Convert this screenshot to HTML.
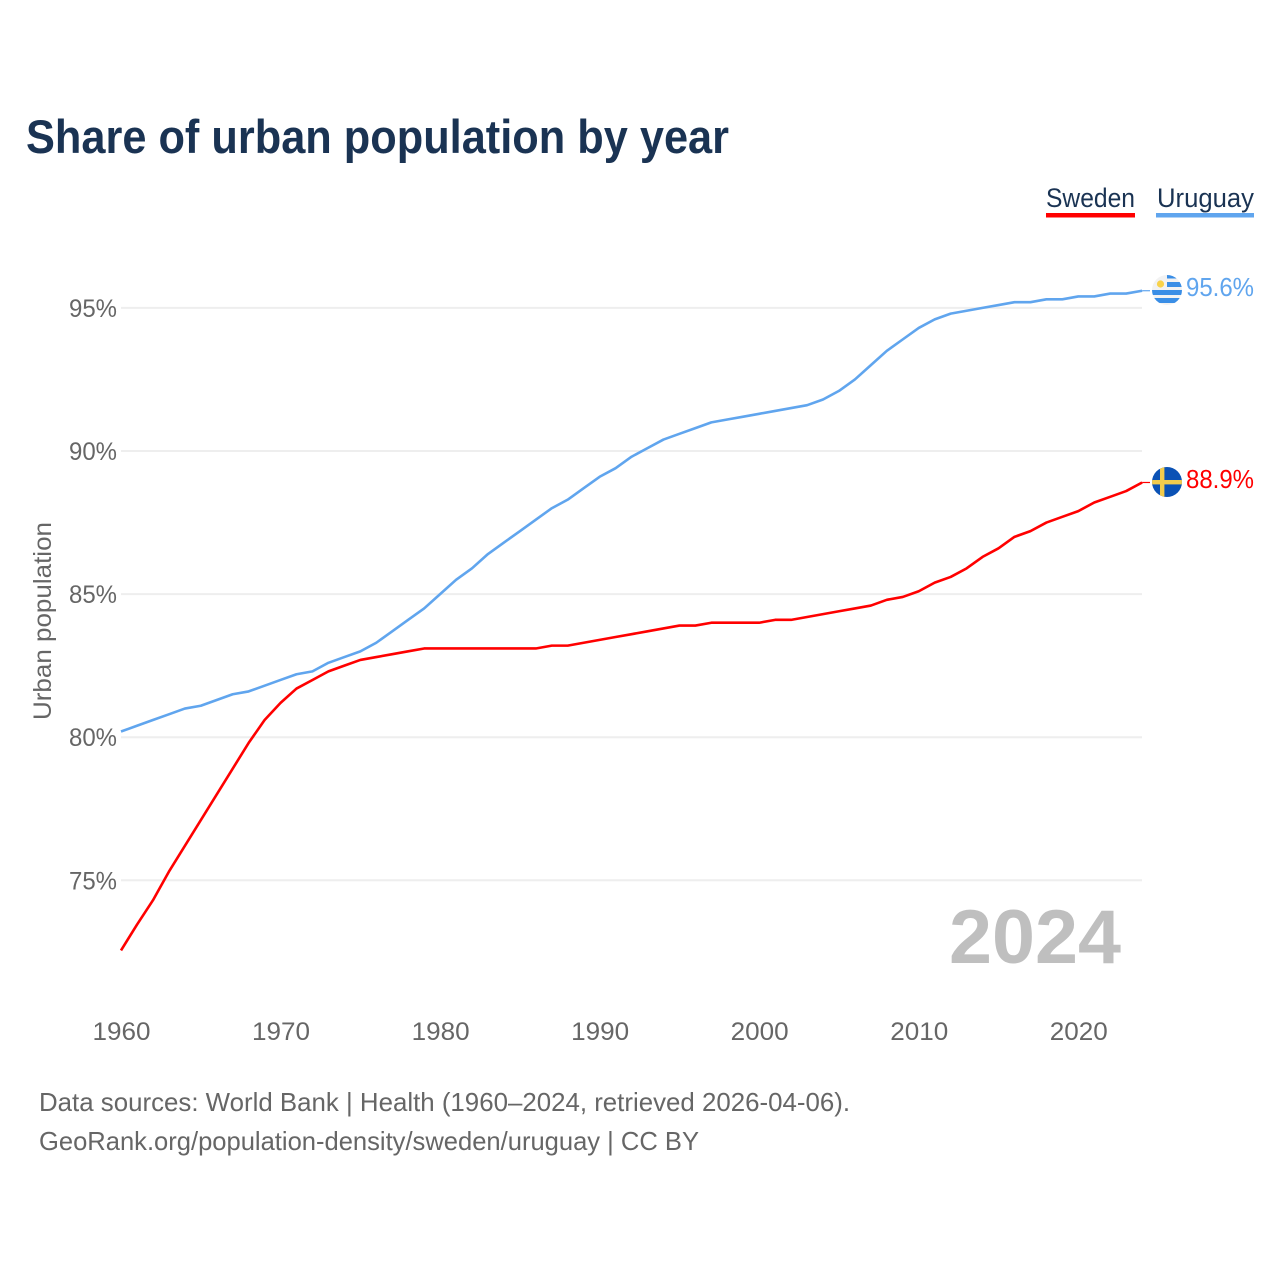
<!DOCTYPE html>
<html lang="en">
<head>
<meta charset="utf-8">
<title>Share of urban population by year</title>
<style>
html,body{margin:0;padding:0;background:#fff;width:1280px;height:1280px;overflow:hidden}
svg{display:block;font-family:"Liberation Sans",sans-serif}
</style>
</head>
<body>
<svg id="chart" xmlns="http://www.w3.org/2000/svg" width="1280" height="1280" viewBox="0 0 1280 1280">
  <defs>
    <clipPath id="flag-clip-uruguay"><circle cx="1167" cy="290" r="15"/></clipPath>
    <clipPath id="flag-clip-sweden"><circle cx="1167" cy="482" r="15"/></clipPath>
  </defs>
  <text x="26" y="153" font-size="47" font-weight="700" fill="#1a3353" textLength="703" lengthAdjust="spacingAndGlyphs">Share of urban population by year</text>

  <g>
    <text x="1046" y="207" font-size="27" fill="#1a3353" textLength="89" lengthAdjust="spacingAndGlyphs">Sweden</text>
    <rect x="1046" y="213" width="89" height="4.5" fill="#ff0000"/>
  </g>
  <g>
    <text x="1157" y="207" font-size="27" fill="#1a3353" textLength="97" lengthAdjust="spacingAndGlyphs">Uruguay</text>
    <rect x="1156" y="213" width="98" height="4.5" fill="#60a5ee"/>
  </g>

  <g id="grid"></g>
  <g id="y-ticks"></g>
  <g id="x-ticks"></g>

  <text transform="translate(51 621) rotate(-90)" text-anchor="middle" font-size="25" fill="#666666" textLength="198" lengthAdjust="spacingAndGlyphs">Urban population</text>

  <text x="949" y="963" font-size="76" font-weight="700" fill="#bfbfbf" textLength="172" lengthAdjust="spacingAndGlyphs">2024</text>

  <g id="series"></g>

  <g clip-path="url(#flag-clip-uruguay)">
    <rect x="1152" y="275" width="30" height="30" fill="#f2f2f2"/>
    <rect x="1167" y="275" width="15" height="3.5" fill="#3a8ee6"/>
    <rect x="1167" y="282" width="15" height="5" fill="#3a8ee6"/>
    <rect x="1152" y="290" width="30" height="5" fill="#3a8ee6"/>
    <rect x="1152" y="298" width="30" height="5" fill="#3a8ee6"/>
    <circle cx="1160.5" cy="284" r="3.6" fill="#f8d24a"/>
  </g>
  <g clip-path="url(#flag-clip-sweden)">
    <rect x="1152" y="467" width="30" height="30" fill="#0b52b5"/>
    <rect x="1160" y="467" width="4.4" height="30" fill="#f2cc4d"/>
    <rect x="1152" y="480" width="30" height="4.4" fill="#f2cc4d"/>
  </g>

  <text x="39" y="1111" font-size="26" fill="#666666" textLength="811" lengthAdjust="spacingAndGlyphs">Data sources: World Bank | Health (1960–2024, retrieved 2026-04-06).</text>
  <text x="39" y="1150" font-size="26" fill="#666666" textLength="660" lengthAdjust="spacingAndGlyphs">GeoRank.org/population-density/sweden/uruguay | CC BY</text>
</svg>
<script>
const startYear = 1960;
const xTickLabels = [1960, 1970, 1980, 1990, 2000, 2010, 2020];
const yTickLabels = [75, 80, 85, 90, 95];
const swedenValues = [72.55, 73.45, 74.3, 75.3, 76.2, 77.1, 78.0, 78.9, 79.8, 80.6,
  81.2, 81.7, 82.0, 82.3, 82.5, 82.7, 82.8, 82.9, 83.0, 83.1,
  83.1, 83.1, 83.1, 83.1, 83.1, 83.1, 83.1, 83.2, 83.2, 83.3,
  83.4, 83.5, 83.6, 83.7, 83.8, 83.9, 83.9, 84.0, 84.0, 84.0,
  84.0, 84.1, 84.1, 84.2, 84.3, 84.4, 84.5, 84.6, 84.8, 84.9,
  85.1, 85.4, 85.6, 85.9, 86.3, 86.6, 87.0, 87.2, 87.5, 87.7,
  87.9, 88.2, 88.4, 88.6, 88.9];
const uruguayValues = [80.2, 80.4, 80.6, 80.8, 81.0, 81.1, 81.3, 81.5, 81.6, 81.8,
  82.0, 82.2, 82.3, 82.6, 82.8, 83.0, 83.3, 83.7, 84.1, 84.5,
  85.0, 85.5, 85.9, 86.4, 86.8, 87.2, 87.6, 88.0, 88.3, 88.7,
  89.1, 89.4, 89.8, 90.1, 90.4, 90.6, 90.8, 91.0, 91.1, 91.2,
  91.3, 91.4, 91.5, 91.6, 91.8, 92.1, 92.5, 93.0, 93.5, 93.9,
  94.3, 94.6, 94.8, 94.9, 95.0, 95.1, 95.2, 95.2, 95.3, 95.3,
  95.4, 95.4, 95.5, 95.5, 95.6];

const NS = 'http://www.w3.org/2000/svg';
function xScale(year) { return 121 + (year - 1960) * 15.955; }
function yScale(value) { return 737.2 - (value - 80) * 28.62; }
function make(tag, parent, attrs, text) {
  const el = document.createElementNS(NS, tag);
  Object.keys(attrs).forEach(function (k) { el.setAttribute(k, attrs[k]); });
  if (text !== undefined) el.textContent = text;
  parent.appendChild(el);
  return el;
}

const grid = document.getElementById('grid');
const yTicks = document.getElementById('y-ticks');
const xTicks = document.getElementById('x-ticks');
const seriesGroup = document.getElementById('series');

yTickLabels.forEach(function (v) {
  const line = make('line', grid, { x1: 121, x2: 1142, y1: yScale(v), y2: yScale(v), stroke: '#eeeeee', 'stroke-width': 2 });
  
  
  const label = make('text', yTicks, { x: 117, y: yScale(v) + 9, 'text-anchor': 'end', 'font-size': 25, fill: '#666666', textLength: 48, lengthAdjust: 'spacingAndGlyphs' }, v + '%');
  
  
});

xTickLabels.forEach(function (y) {
  const label = make('text', xTicks, { x: xScale(y) + 0.5, y: 1040, 'text-anchor': 'middle', 'font-size': 25, fill: '#666666', textLength: 58, lengthAdjust: 'spacingAndGlyphs' }, String(y));
  
  
});

function drawSeries(key, values, color) {
  const points = values.map(function (v, i) { return xScale(startYear + i).toFixed(2) + ',' + yScale(v).toFixed(2); });
  const path = make('polyline', seriesGroup, { points: points.join(' '), fill: 'none', stroke: color, 'stroke-width': 2.6, 'stroke-linejoin': 'round' });
  
  
  const last = values[values.length - 1];
  const lastX = xScale(startYear + values.length - 1);
  const connector = make('line', seriesGroup, { x1: lastX, x2: 1150, y1: yScale(last), y2: yScale(last), stroke: color, 'stroke-width': 1.2 });
  
  
  const label = make('text', seriesGroup, { x: 1186, y: yScale(last) + 5.5, 'font-size': 26, fill: color, textLength: 68, lengthAdjust: 'spacingAndGlyphs' }, last.toFixed(1) + '%');
  
  
}
drawSeries('uruguay', uruguayValues, '#60a5ee');
drawSeries('sweden', swedenValues, '#ff0000');
</script>
</body>
</html>
